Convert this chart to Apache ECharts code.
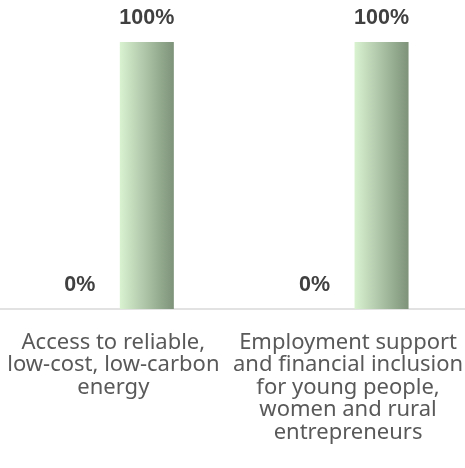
<!DOCTYPE html>
<html><head><meta charset="utf-8">
<script src="https://cdn.jsdelivr.net/npm/echarts@6/dist/echarts.min.js"></script>
<style>html,body{margin:0;padding:0;background:#fff;overflow:hidden}#c{position:absolute;left:-4px;top:0;width:470px;height:468px}</style>
</head><body><div id="c"></div>
<script>
const categories = ["Access to reliable,\nlow-cost, low-carbon\nenergy", "Employment support\nand financial inclusion\nfor young people,\nwomen and rural\nentrepreneurs"];
const seriesA = [0, 0];
const seriesB = [1, 1];

const chart = echarts.init(document.getElementById('c'));
const lbl = {show:true, position:'top', distance:13, fontFamily:'Liberation Sans', fontWeight:'bold', fontSize:21.5, color:'#404040',
  formatter: p => Math.round(p.value*100) + '%'};
chart.setOption({
  animation:false,
  grid:{left:0, right:0, top:42, bottom:159, containLabel:false},
  xAxis:{type:'category', data:categories,
    axisLine:{lineStyle:{color:'#d9d9d9', width:1.5}}, axisTick:{show:false},
    axisLabel:{interval:0, margin:22, fontFamily:'Noto Sans', fontSize:22, lineHeight:22.5, color:'#595959', align:'center'}},
  yAxis:{type:'value', min:0, max:1, show:false, splitLine:{show:false}},
  series:[
    {type:'bar', data:seriesA, barWidth:54, barGap:'24%', label:lbl, itemStyle:{color:'#c5e0b4'}},
    {type:'bar', data:seriesB, barWidth:54, label:lbl,
     itemStyle:{color:new echarts.graphic.LinearGradient(0,0,1,0,[{offset:0,color:'#d9f2d0'},{offset:1,color:'#7d9279'}])}}
  ]
});
</script></body></html>
